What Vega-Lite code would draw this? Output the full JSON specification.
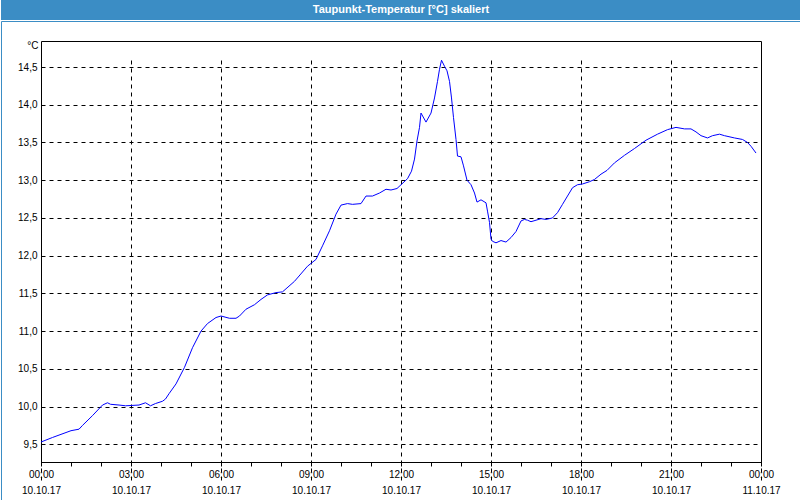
{
  "$schema": "https://vega.github.io/schema/vega-lite/v6.json",
  "padding": 0,
  "spacing": 0,
  "background": "white",
  "config": {"view": {"stroke": null}, "font": "Liberation Sans"},
  "vconcat": [
    {
      "width": 800,
      "height": 20,
      "view": {"fill": "#3b8dc5", "stroke": null},
      "data": {"values": [{"title": "Taupunkt-Temperatur [°C] skaliert"}]},
      "mark": {"type": "text", "color": "white", "fontWeight": "bold", "fontSize": 11, "font": "Liberation Sans", "baseline": "middle", "align": "center"},
      "encoding": {"text": {"field": "title"}}
    },
    {
      "width": 800,
      "height": 480,
      "view": {"stroke": "#3b8dc5", "strokeWidth": 1},
      "data": {"values": [
        {"time": "2017-10-10T00:00", "value": 9.53},
        {"time": "2017-10-10T00:23", "value": 9.59},
        {"time": "2017-10-10T01:00", "value": 9.68},
        {"time": "2017-10-10T01:16", "value": 9.70},
        {"time": "2017-10-10T01:23", "value": 9.75},
        {"time": "2017-10-10T01:43", "value": 9.88},
        {"time": "2017-10-10T02:03", "value": 10.02},
        {"time": "2017-10-10T02:13", "value": 10.05},
        {"time": "2017-10-10T02:19", "value": 10.03},
        {"time": "2017-10-10T02:36", "value": 10.02},
        {"time": "2017-10-10T02:49", "value": 10.01},
        {"time": "2017-10-10T03:16", "value": 10.02},
        {"time": "2017-10-10T03:29", "value": 10.05},
        {"time": "2017-10-10T03:39", "value": 10.01},
        {"time": "2017-10-10T03:49", "value": 10.04},
        {"time": "2017-10-10T04:03", "value": 10.07},
        {"time": "2017-10-10T04:09", "value": 10.10},
        {"time": "2017-10-10T04:16", "value": 10.17},
        {"time": "2017-10-10T04:30", "value": 10.30},
        {"time": "2017-10-10T04:47", "value": 10.52},
        {"time": "2017-10-10T05:03", "value": 10.78},
        {"time": "2017-10-10T05:20", "value": 11.00},
        {"time": "2017-10-10T05:33", "value": 11.10},
        {"time": "2017-10-10T05:50", "value": 11.18},
        {"time": "2017-10-10T06:00", "value": 11.20},
        {"time": "2017-10-10T06:17", "value": 11.17},
        {"time": "2017-10-10T06:30", "value": 11.17},
        {"time": "2017-10-10T06:37", "value": 11.20},
        {"time": "2017-10-10T06:50", "value": 11.29},
        {"time": "2017-10-10T07:07", "value": 11.35},
        {"time": "2017-10-10T07:20", "value": 11.42},
        {"time": "2017-10-10T07:33", "value": 11.48},
        {"time": "2017-10-10T07:50", "value": 11.51},
        {"time": "2017-10-10T08:03", "value": 11.52},
        {"time": "2017-10-10T08:27", "value": 11.66},
        {"time": "2017-10-10T08:53", "value": 11.86},
        {"time": "2017-10-10T09:10", "value": 11.95},
        {"time": "2017-10-10T09:23", "value": 12.13},
        {"time": "2017-10-10T09:37", "value": 12.33},
        {"time": "2017-10-10T09:50", "value": 12.55},
        {"time": "2017-10-10T10:00", "value": 12.67},
        {"time": "2017-10-10T10:13", "value": 12.69},
        {"time": "2017-10-10T10:23", "value": 12.68},
        {"time": "2017-10-10T10:40", "value": 12.69},
        {"time": "2017-10-10T10:50", "value": 12.79},
        {"time": "2017-10-10T11:03", "value": 12.79},
        {"time": "2017-10-10T11:17", "value": 12.83},
        {"time": "2017-10-10T11:30", "value": 12.88},
        {"time": "2017-10-10T11:40", "value": 12.87},
        {"time": "2017-10-10T11:52", "value": 12.89},
        {"time": "2017-10-10T12:00", "value": 12.94},
        {"time": "2017-10-10T12:13", "value": 13.02},
        {"time": "2017-10-10T12:21", "value": 13.12},
        {"time": "2017-10-10T12:27", "value": 13.28},
        {"time": "2017-10-10T12:32", "value": 13.52},
        {"time": "2017-10-10T12:37", "value": 13.70},
        {"time": "2017-10-10T12:40", "value": 13.89},
        {"time": "2017-10-10T12:50", "value": 13.77},
        {"time": "2017-10-10T13:00", "value": 13.89},
        {"time": "2017-10-10T13:07", "value": 14.09},
        {"time": "2017-10-10T13:13", "value": 14.31},
        {"time": "2017-10-10T13:17", "value": 14.47},
        {"time": "2017-10-10T13:21", "value": 14.59},
        {"time": "2017-10-10T13:27", "value": 14.51},
        {"time": "2017-10-10T13:32", "value": 14.45},
        {"time": "2017-10-10T13:37", "value": 14.31},
        {"time": "2017-10-10T13:41", "value": 14.09},
        {"time": "2017-10-10T13:45", "value": 13.83},
        {"time": "2017-10-10T13:50", "value": 13.54},
        {"time": "2017-10-10T13:53", "value": 13.32},
        {"time": "2017-10-10T14:00", "value": 13.31},
        {"time": "2017-10-10T14:05", "value": 13.19},
        {"time": "2017-10-10T14:12", "value": 13.00},
        {"time": "2017-10-10T14:20", "value": 12.94},
        {"time": "2017-10-10T14:27", "value": 12.83},
        {"time": "2017-10-10T14:32", "value": 12.71},
        {"time": "2017-10-10T14:40", "value": 12.74},
        {"time": "2017-10-10T14:50", "value": 12.70},
        {"time": "2017-10-10T14:53", "value": 12.59},
        {"time": "2017-10-10T14:57", "value": 12.44},
        {"time": "2017-10-10T15:00", "value": 12.22},
        {"time": "2017-10-10T15:03", "value": 12.19},
        {"time": "2017-10-10T15:10", "value": 12.17},
        {"time": "2017-10-10T15:20", "value": 12.20},
        {"time": "2017-10-10T15:30", "value": 12.18},
        {"time": "2017-10-10T15:40", "value": 12.24},
        {"time": "2017-10-10T15:50", "value": 12.32},
        {"time": "2017-10-10T16:00", "value": 12.46},
        {"time": "2017-10-10T16:07", "value": 12.48},
        {"time": "2017-10-10T16:13", "value": 12.47},
        {"time": "2017-10-10T16:20", "value": 12.45},
        {"time": "2017-10-10T16:30", "value": 12.47},
        {"time": "2017-10-10T16:40", "value": 12.49},
        {"time": "2017-10-10T16:50", "value": 12.48},
        {"time": "2017-10-10T17:03", "value": 12.50},
        {"time": "2017-10-10T17:13", "value": 12.57},
        {"time": "2017-10-10T17:23", "value": 12.68},
        {"time": "2017-10-10T17:33", "value": 12.79},
        {"time": "2017-10-10T17:43", "value": 12.90},
        {"time": "2017-10-10T17:53", "value": 12.94},
        {"time": "2017-10-10T18:03", "value": 12.95},
        {"time": "2017-10-10T18:17", "value": 12.98},
        {"time": "2017-10-10T18:27", "value": 13.01},
        {"time": "2017-10-10T18:40", "value": 13.08},
        {"time": "2017-10-10T18:52", "value": 13.13},
        {"time": "2017-10-10T19:07", "value": 13.23},
        {"time": "2017-10-10T19:27", "value": 13.33},
        {"time": "2017-10-10T19:47", "value": 13.42},
        {"time": "2017-10-10T20:10", "value": 13.53},
        {"time": "2017-10-10T20:33", "value": 13.61},
        {"time": "2017-10-10T20:53", "value": 13.67},
        {"time": "2017-10-10T21:10", "value": 13.70},
        {"time": "2017-10-10T21:27", "value": 13.68},
        {"time": "2017-10-10T21:40", "value": 13.68},
        {"time": "2017-10-10T21:50", "value": 13.64},
        {"time": "2017-10-10T22:00", "value": 13.59},
        {"time": "2017-10-10T22:13", "value": 13.56},
        {"time": "2017-10-10T22:23", "value": 13.59},
        {"time": "2017-10-10T22:37", "value": 13.61},
        {"time": "2017-10-10T22:47", "value": 13.59},
        {"time": "2017-10-10T23:07", "value": 13.56},
        {"time": "2017-10-10T23:23", "value": 13.54},
        {"time": "2017-10-10T23:33", "value": 13.50},
        {"time": "2017-10-10T23:40", "value": 13.45},
        {"time": "2017-10-10T23:50", "value": 13.36}
      ]},
      "encoding": {
        "x": {
          "field": "time", "type": "temporal",
          "scale": {"domain": [{"year": 2017, "month": 10, "date": 10, "hours": 0}, {"year": 2017, "month": 10, "date": 11, "hours": 0}], "range": [40, 760]}
        },
        "y": {
          "field": "value", "type": "quantitative",
          "scale": {"domain": [9.265, 14.845], "range": [441, 20], "zero": false, "nice": false}
        }
      },
      "layer": [
        {
          "mark": {"type": "line", "color": "#0000ff", "strokeWidth": 1},
          "encoding": {
            "x": {
              "field": "time", "type": "temporal",
              "axis": {
                "title": null, "offset": -39,
                "values": [
                  {"year": 2017, "month": 10, "date": 10, "hours": 0},
                  {"year": 2017, "month": 10, "date": 10, "hours": 3},
                  {"year": 2017, "month": 10, "date": 10, "hours": 6},
                  {"year": 2017, "month": 10, "date": 10, "hours": 9},
                  {"year": 2017, "month": 10, "date": 10, "hours": 12},
                  {"year": 2017, "month": 10, "date": 10, "hours": 15},
                  {"year": 2017, "month": 10, "date": 10, "hours": 18},
                  {"year": 2017, "month": 10, "date": 10, "hours": 21},
                  {"year": 2017, "month": 10, "date": 11, "hours": 0}
                ],
                "labelExpr": "[timeFormat(datum.value, '%H') + ':' + timeFormat(datum.value, '%M'), timeFormat(datum.value, '%d.%m.%y')]",
                "labelOverlap": false, "labelFlush": false, "labelFontSize": 10, "labelColor": "black", "labelLineHeight": 16, "labelPadding": 3,
                "grid": true, "gridColor": "black", "gridDash": [4, 4],
                "domainColor": "black", "tickColor": "black", "tickSize": 4
              }
            },
            "y": {
              "field": "value", "type": "quantitative",
              "axis": {
                "values": [9.5, 10, 10.5, 11, 11.5, 12, 12.5, 13, 13.5, 14, 14.5],
                "labelExpr": "replace(format(datum.value, '.1f'), '.', ',')",
                "offset": -40, "ticks": false, "labelPadding": 4, "labelFontSize": 10, "labelColor": "black",
                "grid": true, "gridColor": "black", "gridDash": [4, 4],
                "domainColor": "black",
                "title": "°C", "titleAngle": 0, "titleAlign": "right", "titleBaseline": "middle",
                "titleX": -3, "titleY": 24, "titleFontWeight": "normal", "titleFontSize": 10, "titleColor": "black"
              }
            }
          }
        },
        {
          "mark": {"type": "line", "opacity": 0},
          "encoding": {
            "x": {
              "field": "time", "type": "temporal",
              "axis": {"orient": "top", "offset": -20, "title": null, "labels": false, "ticks": false, "grid": false, "domainColor": "black"}
            },
            "y": {
              "field": "value", "type": "quantitative",
              "axis": {"orient": "right", "offset": -40, "title": null, "labels": false, "ticks": false, "grid": false, "domainColor": "black"}
            }
          }
        },
        {
          "mark": {"type": "line", "opacity": 0},
          "encoding": {
            "x": {
              "field": "time", "type": "temporal",
              "axis": {
                "orient": "bottom", "offset": -39, "title": null, "labels": false, "grid": false, "domain": false,
                "ticks": true, "tickColor": "black", "tickSize": 4,
                "values": [
                  {"year": 2017, "month": 10, "date": 10, "hours": 1},
                  {"year": 2017, "month": 10, "date": 10, "hours": 2},
                  {"year": 2017, "month": 10, "date": 10, "hours": 4},
                  {"year": 2017, "month": 10, "date": 10, "hours": 5},
                  {"year": 2017, "month": 10, "date": 10, "hours": 7},
                  {"year": 2017, "month": 10, "date": 10, "hours": 8},
                  {"year": 2017, "month": 10, "date": 10, "hours": 10},
                  {"year": 2017, "month": 10, "date": 10, "hours": 11},
                  {"year": 2017, "month": 10, "date": 10, "hours": 13},
                  {"year": 2017, "month": 10, "date": 10, "hours": 14},
                  {"year": 2017, "month": 10, "date": 10, "hours": 16},
                  {"year": 2017, "month": 10, "date": 10, "hours": 17},
                  {"year": 2017, "month": 10, "date": 10, "hours": 19},
                  {"year": 2017, "month": 10, "date": 10, "hours": 20},
                  {"year": 2017, "month": 10, "date": 10, "hours": 22},
                  {"year": 2017, "month": 10, "date": 10, "hours": 23}
                ]
              }
            },
            "y": {"field": "value", "type": "quantitative", "axis": null}
          }
        }
      ],
      "resolve": {"axis": {"x": "independent", "y": "independent"}}
    }
  ]
}
